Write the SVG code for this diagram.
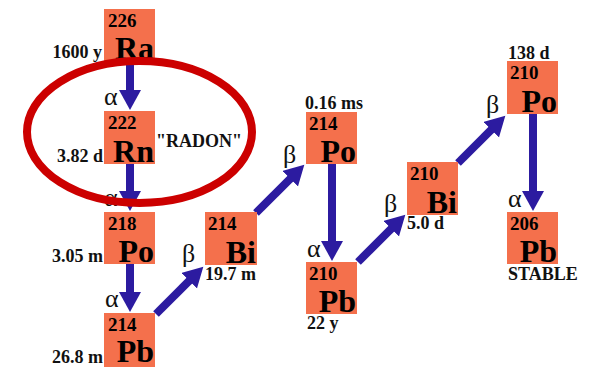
<svg xmlns="http://www.w3.org/2000/svg" width="600" height="367" viewBox="0 0 600 367">
<style>
.box{fill:#F4704C;}
.mass{font-family:"Liberation Serif",serif;font-weight:bold;font-size:19px;fill:#000;}
.sym{font-family:"Liberation Serif",serif;font-weight:bold;font-size:32px;fill:#000;text-anchor:end;}
.lbl{font-family:"Liberation Serif",serif;font-weight:bold;font-size:18px;fill:#111;}
.end{text-anchor:end;}
.greek{font-family:"Liberation Serif",serif;font-size:26px;fill:#111;}
.arr{stroke:#2C1BA0;stroke-width:8;fill:none;marker-end:url(#head);}
</style>
<defs>
<marker id="head" markerUnits="userSpaceOnUse" markerWidth="22" markerHeight="24" refX="1" refY="11" orient="auto">
<path d="M0,0 L20,11 L0,22 z" fill="#2C1BA0"/>
</marker>
</defs>
<rect width="600" height="367" fill="#fff"/>

<g id="connectors">
<line class="arr" x1="130" y1="61" x2="130" y2="91"/>
<line class="arr" x1="130" y1="163" x2="130" y2="192"/>
<line class="arr" x1="130" y1="264" x2="130" y2="293"/>
<line class="arr" x1="156" y1="314" x2="189.9" y2="280.1"/>
<line class="arr" x1="256" y1="213" x2="290.9" y2="178.1"/>
<line class="arr" x1="332" y1="164" x2="332" y2="242"/>
<line class="arr" x1="358" y1="262" x2="391.9" y2="228.1"/>
<line class="arr" x1="458" y1="163" x2="491.9" y2="129.1"/>
<line class="arr" x1="533" y1="113" x2="533" y2="192"/>
<text class="greek" x="104" y="105">α</text>
<text class="greek" x="104" y="206">α</text>
<text class="greek" x="105" y="307">α</text>
<text class="greek" x="307" y="257">α</text>
<text class="greek" x="508" y="207">α</text>
<text class="greek" x="182" y="262">β</text>
<text class="greek" x="283" y="163">β</text>
<text class="greek" x="384" y="212">β</text>
<text class="greek" x="486" y="113">β</text>
</g>

<g id="ra226">
<rect class="box" x="104" y="9" width="51" height="52"/>
<text class="mass" x="108" y="27">226</text>
<text class="sym" x="154" y="59">Ra</text>
<text class="lbl end" x="102" y="58">1600 y</text>
</g>

<g id="rn222">
<rect class="box" x="104" y="111" width="51" height="53"/>
<text class="mass" x="108" y="129">222</text>
<text class="sym" x="154" y="162">Rn</text>
<text class="lbl end" x="103" y="162">3.82 d</text>
<text class="lbl" x="156" y="147">"RADON"</text>
</g>

<g id="po218">
<rect class="box" x="104" y="212" width="51" height="52"/>
<text class="mass" x="108" y="230">218</text>
<text class="sym" x="154" y="262">Po</text>
<text class="lbl end" x="103" y="262">3.05 m</text>
</g>

<g id="pb214">
<rect class="box" x="104" y="313" width="51" height="54"/>
<text class="mass" x="108" y="331">214</text>
<text class="sym" x="154" y="362">Pb</text>
<text class="lbl end" x="103" y="363">26.8 m</text>
</g>

<g id="bi214">
<rect class="box" x="205" y="212" width="52" height="53"/>
<text class="mass" x="208" y="230">214</text>
<text class="sym" x="256" y="263">Bi</text>
<text class="lbl" x="205" y="280">19.7 m</text>
</g>

<g id="po214">
<rect class="box" x="306" y="112" width="51" height="52"/>
<text class="mass" x="309" y="130">214</text>
<text class="sym" x="356" y="162">Po</text>
<text class="lbl" x="305" y="109">0.16 ms</text>
</g>

<g id="pb210">
<rect class="box" x="306" y="262" width="51" height="52"/>
<text class="mass" x="309" y="280">210</text>
<text class="sym" x="356" y="312">Pb</text>
<text class="lbl" x="307" y="329">22 y</text>
</g>

<g id="bi210">
<rect class="box" x="407" y="162" width="51" height="53"/>
<text class="mass" x="410" y="180">210</text>
<text class="sym" x="457" y="213">Bi</text>
<text class="lbl" x="407" y="229">5.0 d</text>
</g>

<g id="po210">
<rect class="box" x="507" y="61" width="51" height="53"/>
<text class="mass" x="510" y="79">210</text>
<text class="sym" x="557" y="112">Po</text>
<text class="lbl" x="508" y="59">138 d</text>
</g>

<g id="pb206">
<rect class="box" x="507" y="212" width="51" height="52"/>
<text class="mass" x="510" y="230">206</text>
<text class="sym" x="557" y="262">Pb</text>
<text class="lbl" x="508" y="280">STABLE</text>
</g>

<g id="highlight">
<ellipse cx="139.5" cy="132" rx="112.5" ry="71" fill="none" stroke="#CC0000" stroke-width="8"/>
</g>
</svg>
